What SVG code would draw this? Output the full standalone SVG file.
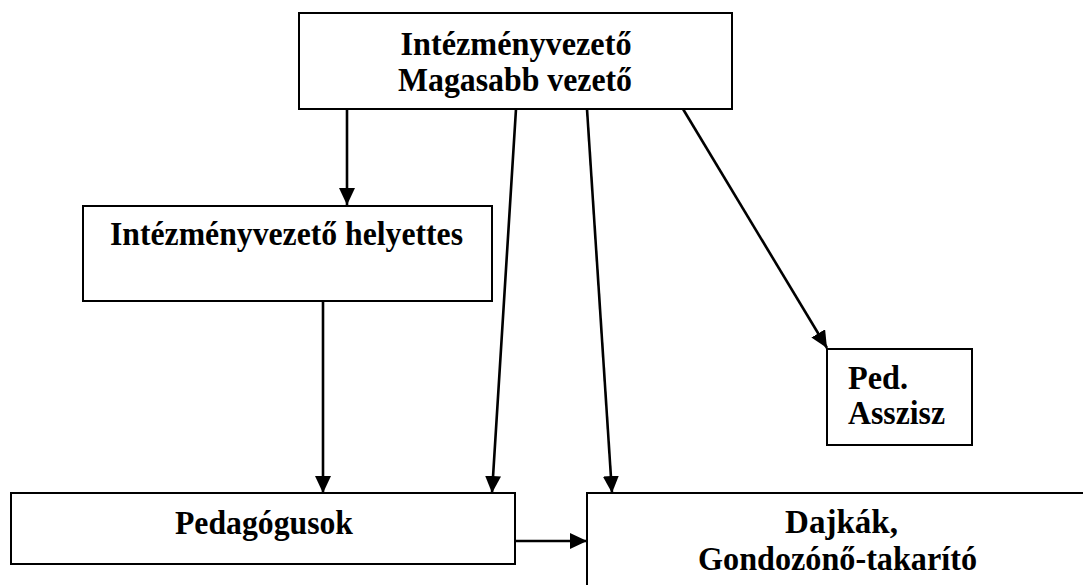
<svg xmlns="http://www.w3.org/2000/svg" width="1083" height="585" viewBox="0 0 1083 585">
<style>
.box{fill:#fff;stroke:#000;stroke-width:2}
text{font-family:'Liberation Serif','Times New Roman',serif;font-weight:bold;font-size:34px;fill:#000}
.c{text-anchor:middle}
.ln{stroke:#000;stroke-width:2.6;fill:none;marker-end:url(#ah)}
</style>
<defs>
<marker id="ah" markerUnits="userSpaceOnUse" markerWidth="17" markerHeight="16" refX="17" refY="8" orient="auto">
<path d="M0,0 L17,8 L0,16 z" fill="#000"/>
</marker>
</defs>
<rect width="1083" height="585" fill="#fff"/>
<g id="connectors">
<line class="ln" x1="347" y1="109" x2="347" y2="205"/>
<line class="ln" x1="516" y1="109" x2="492" y2="493"/>
<line class="ln" x1="587" y1="109" x2="612" y2="493"/>
<line class="ln" x1="683" y1="109" x2="827" y2="348"/>
<line class="ln" x1="323" y1="301" x2="323" y2="493"/>
<line class="ln" x1="515" y1="541" x2="587" y2="541"/>
</g>
<g id="n-vezeto">
<rect class="box" x="299" y="13" width="433" height="96"/>
<text class="c" x="516" y="55" textLength="231" lengthAdjust="spacingAndGlyphs">Intézményvezető</text>
<text class="c" x="515" y="91" textLength="234" lengthAdjust="spacingAndGlyphs">Magasabb vezető</text>
</g>
<g id="n-helyettes">
<rect class="box" x="83" y="206" width="409" height="95"/>
<text class="c" x="286.5" y="245" textLength="353" lengthAdjust="spacingAndGlyphs">Intézményvezető helyettes</text>
</g>
<g id="n-asszisz">
<rect class="box" x="827" y="349" width="145" height="96"/>
<text x="848" y="389" textLength="60" lengthAdjust="spacingAndGlyphs">Ped.</text>
<text x="848" y="424" textLength="97" lengthAdjust="spacingAndGlyphs">Asszisz</text>
</g>
<g id="n-pedagogusok">
<rect class="box" x="11" y="493" width="504" height="71"/>
<text class="c" x="264" y="534" textLength="178" lengthAdjust="spacingAndGlyphs">Pedagógusok</text>
</g>
<g id="n-dajkak">
<rect class="box" x="587" y="493" width="510" height="110"/>
<text class="c" x="841.5" y="533" textLength="113" lengthAdjust="spacingAndGlyphs">Dajkák,</text>
<text class="c" x="837.5" y="570" textLength="279" lengthAdjust="spacingAndGlyphs">Gondozónő-takarító</text>
</g>
</svg>
